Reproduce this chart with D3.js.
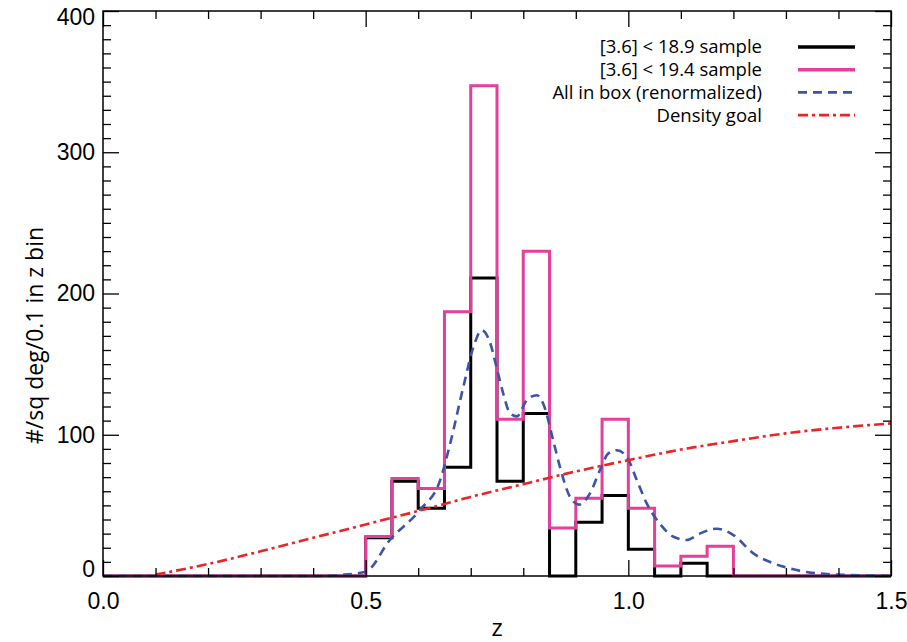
<!DOCTYPE html>
<html>
<head>
<meta charset="utf-8">
<script src="https://cdn.jsdelivr.net/npm/d3@7"></script>
<style>
  body { margin: 0; background: #fff; }
  svg { display: block; font-family: "Open Sans", "Noto Sans", sans-serif; }
</style>
</head>
<body>
<svg id="chart"></svg>
<script>
// histogram bins (left edge of each 0.05 bin in z)
const binStart = [0.50, 0.55, 0.60, 0.65, 0.70, 0.75, 0.80, 0.85, 0.90, 0.95, 1.00, 1.05, 1.10, 1.15];
const binEnd = 1.20;
const bright = [27, 67, 48, 77, 211, 67, 115, 0, 38, 57, 19, 0, 9, 0];      // [3.6] < 18.9
const faint = [28, 69, 62, 187, 347, 111, 230, 34, 55, 111, 48, 7, 14, 21];  // [3.6] < 19.4

// "All in box (renormalized)" curve
const boxZ = [0.00, 0.42, 0.45, 0.50, 0.546, 0.603, 0.642, 0.661, 0.686, 0.705, 0.721, 0.737, 0.749, 0.762,
              0.775, 0.788, 0.807, 0.826, 0.838, 0.857, 0.870, 0.889, 0.906, 0.927, 0.946, 0.962, 0.978,
              0.997, 1.016, 1.035, 1.060, 1.086, 1.111, 1.136, 1.168, 1.200, 1.238, 1.276, 1.314, 1.346,
              1.378, 1.41, 1.45, 1.50];
const boxV = [0, 0, 0.7, 3, 25.5, 46.7, 68, 94, 134, 162, 174, 165, 148, 129,
              115, 113, 124.6, 128, 122, 96, 77, 56, 50.5, 58.5, 75, 86.8, 89,
              84.4, 68, 51.4, 37, 27.8, 25.5, 30, 33.5, 29, 16, 9, 4.7, 2.4,
              1.4, 0.8, 0.4, 0.2];

// "Density goal" curve
const goalZ = [0.10, 0.20, 0.30, 0.40, 0.50, 0.60, 0.70, 0.80, 0.90, 1.00, 1.10, 1.20, 1.30, 1.40, 1.50];
const goalV = [1, 8.5, 17.5, 27, 36.5, 46, 56, 65, 74, 82, 89.5, 95.5, 101, 105, 108];

const xMajor = [0.0, 0.5, 1.0, 1.5];
const xMinor = [0.1, 0.2, 0.3, 0.4, 0.6, 0.7, 0.8, 0.9, 1.1, 1.2, 1.3, 1.4];
const yMajor = [0, 100, 200, 300, 400];
const yMinor = [10, 20, 30, 40, 50, 60, 70, 80, 90, 110, 120, 130, 140, 150, 160, 170, 180, 190,
                210, 220, 230, 240, 250, 260, 270, 280, 290, 310, 320, 330, 340, 350, 360, 370, 380, 390];

const legendNames = ["[3.6] < 18.9 sample", "[3.6] < 19.4 sample", "All in box (renormalized)", "Density goal"];
const colors = ["#000000", "#e2409a", "#3b55a6", "#ee2326"];

const W = 907, H = 642;
const margin = {top: 11, right: 16, bottom: 66, left: 103};
const width = W - margin.left - margin.right;
const height = H - margin.top - margin.bottom;

const svg = d3.select("#chart").attr("width", W).attr("height", H);
const chart = svg.append("g").attr("transform", `translate(${margin.left},${margin.top})`);

const x = d3.scaleLinear().domain([0, 1.5]).range([0, width]);
const y = d3.scaleLinear().domain([0, 400]).range([height, 0]);

// step outlines of the histograms
function stepPoints(vals) {
    const pts = [[0, 0]];
    binStart.forEach((b, i) => pts.push([b, vals[i]]));
    pts.push([binEnd, 0], [1.5, 0]);
    return pts;
}
const stepLine = d3.line().x(d => x(d[0])).y(d => y(d[1])).curve(d3.curveStepAfter);
const smoothLine = d3.line().x(d => x(d[0])).y(d => y(d[1])).curve(d3.curveMonotoneX);

chart.append("path").attr("d", stepLine(stepPoints(bright)))
    .attr("fill", "none").attr("stroke", colors[0]).attr("stroke-width", 3);
chart.append("path").attr("d", stepLine(stepPoints(faint)))
    .attr("fill", "none").attr("stroke", colors[1]).attr("stroke-width", 3);
chart.append("path").attr("d", smoothLine(boxZ.map((z, i) => [z, boxV[i]])))
    .attr("fill", "none").attr("stroke", colors[2]).attr("stroke-width", 2.6)
    .attr("stroke-dasharray", "9,6");
chart.append("path").attr("d", smoothLine(goalZ.map((z, i) => [z, goalV[i]])))
    .attr("fill", "none").attr("stroke", colors[3]).attr("stroke-width", 2.6)
    .attr("stroke-dasharray", "10,4,3,4");

// axes, ticks pointing inward on all four sides
function styleAxis(g) {
    g.select(".domain").remove();
    g.selectAll(".tick line").attr("stroke", "#000").attr("stroke-width", 1.3);
    g.selectAll("text").attr("fill", "#000").style("font-size", "23px");
}
chart.append("g").attr("transform", `translate(0,${height})`)
    .call(d3.axisBottom(x).tickValues(xMajor).tickSize(-16).tickPadding(17).tickFormat(d3.format(".1f")))
    .call(styleAxis);
chart.append("g").attr("transform", `translate(0,${height})`)
    .call(d3.axisBottom(x).tickValues(xMinor).tickSize(-8).tickFormat("")).call(styleAxis);
chart.append("g")
    .call(d3.axisTop(x).tickValues(xMajor).tickSize(-16).tickFormat("")).call(styleAxis);
chart.append("g")
    .call(d3.axisTop(x).tickValues(xMinor).tickSize(-8).tickFormat("")).call(styleAxis);
chart.append("g")
    .call(d3.axisLeft(y).tickValues(yMajor).tickSize(-16).tickPadding(8)).call(styleAxis)
    .selectAll(".tick text")
    .attr("dy", d => d === 400 ? "0.58em" : d === 0 ? "0em" : "0.32em");
chart.append("g")
    .call(d3.axisLeft(y).tickValues(yMinor).tickSize(-8).tickFormat("")).call(styleAxis);
chart.append("g").attr("transform", `translate(${width},0)`)
    .call(d3.axisRight(y).tickValues(yMajor).tickSize(-16).tickFormat("")).call(styleAxis);
chart.append("g").attr("transform", `translate(${width},0)`)
    .call(d3.axisRight(y).tickValues(yMinor).tickSize(-8).tickFormat("")).call(styleAxis);

// frame
chart.append("rect").attr("width", width).attr("height", height)
    .attr("fill", "none").attr("stroke", "#000").attr("stroke-width", 1.5);

// axis titles
chart.append("text")
    .attr("x", width / 2).attr("y", height + 60)
    .attr("text-anchor", "middle").style("font-size", "24px")
    .text("z");
chart.append("text")
    .attr("transform", "rotate(-90)")
    .attr("x", -(height / 2 + 42)).attr("y", -60)
    .attr("text-anchor", "middle").style("font-size", "23px")
    .text("#/sq deg/0.1 in z bin");

// legend
const dashes = [null, null, "9,6", "10,4,3,4"];
const legend = chart.append("g").attr("transform", "translate(0,36)");
legendNames.forEach((name, i) => {
    const row = legend.append("g").attr("transform", `translate(0,${i * 22.7})`);
    row.append("text")
        .attr("x", 659).attr("y", 0).attr("dy", "0.35em")
        .attr("text-anchor", "end").style("font-size", "18.5px")
        .text(name);
    row.append("line")
        .attr("x1", 695).attr("x2", 752)
        .attr("stroke", colors[i]).attr("stroke-width", i < 2 ? 3.5 : 2.6)
        .attr("stroke-dasharray", dashes[i]);
});
</script>
</body>
</html>
